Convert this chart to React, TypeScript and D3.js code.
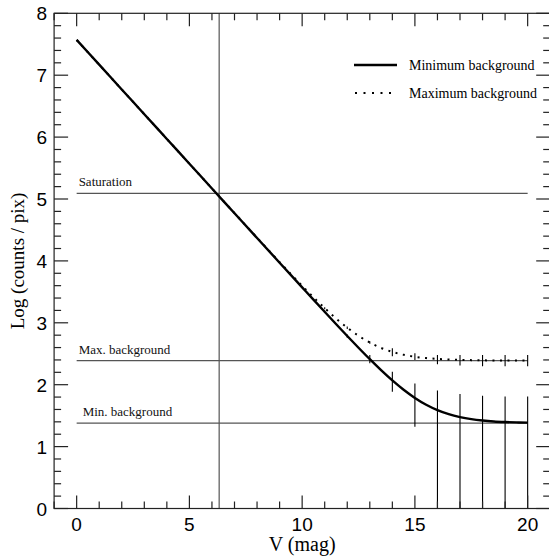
import React from 'react';
import * as d3 from 'd3';

// Data
const vMag = [0, 1, 2, 3, 4, 5, 6, 7, 8, 9, 10, 10.5, 11, 11.5, 12, 12.5, 13, 13.5, 14, 14.5, 15, 15.5, 16, 16.5, 17, 17.5, 18, 18.5, 19, 19.5, 20];
const minBackground = [7.57, 7.17, 6.77, 6.37, 5.97, 5.57, 5.17, 4.77, 4.37, 3.971, 3.573, 3.374, 3.177, 2.981, 2.787, 2.597, 2.412, 2.235, 2.069, 1.918, 1.786, 1.676, 1.589, 1.523, 1.476, 1.443, 1.421, 1.406, 1.397, 1.391, 1.387];
const maxBackground = [7.57, 7.17, 6.77, 6.37, 5.97, 5.57, 5.171, 4.772, 4.375, 3.981, 3.598, 3.413, 3.237, 3.071, 2.921, 2.79, 2.681, 2.595, 2.53, 2.483, 2.451, 2.43, 2.416, 2.407, 2.4, 2.397, 2.394, 2.392, 2.392, 2.391, 2.391];

const errMinV = [12, 13, 14, 15, 16, 17, 18, 19, 20];
const errMinLow = [2.76, 2.346, 1.887, 1.32, 0, 0, 0, 0, 0];
const errMinHigh = [2.81, 2.48, 2.21, 2.02, 1.905, 1.85, 1.82, 1.81, 1.81];

const errMaxV = [11, 12, 13, 14, 15, 16, 17, 18, 19, 20];
const errMaxLow = [3.22, 2.9, 2.66, 2.46, 2.4, 2.33, 2.31, 2.3, 2.3, 2.3];
const errMaxHigh = [3.25, 2.94, 2.7, 2.59, 2.51, 2.48, 2.48, 2.48, 2.48, 2.48];

const saturationLevel = 5.09;
const maxBgLevel = 2.39;
const minBgLevel = 1.38;
const saturationMag = 6.32;

const xTickLabels = [0, 5, 10, 15, 20];
const yTickLabels = [0, 1, 2, 3, 4, 5, 6, 7, 8];

const W = 549;
const H = 558;

export default function App() {
  const x = d3.scaleLinear().domain([-1, 21]).range([54.1, 550.2]);
  const y = d3.scaleLinear().domain([0, 8]).range([508.5, 13.3]);
  const left = x(-1), right = x(21), top = y(8), bottom = y(0);

  const lineGen = (vals: number[]) =>
    d3.line<number>().x((_, i) => x(vMag[i])).y((d) => y(d)).curve(d3.curveMonotoneX)(vals) || '';

  const serif = '"Liberation Serif", "Times New Roman", serif';
  const sans = '"Liberation Sans", Arial, sans-serif';

  const xMinor = d3.range(-1, 22, 1);
  const yMinor = d3.range(0, 8.01, 0.2).map((v) => Math.round(v * 10) / 10);

  return (
    <svg width={W} height={H} style={{ position: 'absolute', left: 0, top: 0, background: '#fff' }}>
      <defs>
        <clipPath id="plotclip">
          <rect x={left} y={top} width={right - left} height={bottom - top} />
        </clipPath>
      </defs>
      <rect x={0} y={0} width={W} height={H} fill="#fff" />

      {/* reference lines */}
      <g stroke="#555" strokeWidth={1.2}>
        {[saturationLevel, maxBgLevel, minBgLevel].map((lv, i) => (
          <line key={i} x1={x(0)} x2={x(20)} y1={y(lv)} y2={y(lv)} />
        ))}
        <line x1={x(saturationMag)} x2={x(saturationMag)} y1={top} y2={bottom} />
      </g>
      <g fontFamily={serif} fontSize={13} fill="#111">
        <text x={x(0) + 2} y={y(saturationLevel) - 7}>Saturation</text>
        <text x={x(0) + 2} y={y(maxBgLevel) - 7}>Max. background</text>
        <text x={x(0) + 6} y={y(minBgLevel) - 7}>Min. background</text>
      </g>

      {/* curves */}
      <g clipPath="url(#plotclip)">
        <path d={lineGen(maxBackground)} fill="none" stroke="#000" strokeWidth={2} strokeDasharray="2 5.5" />
        <path d={lineGen(minBackground)} fill="none" stroke="#000" strokeWidth={2.4} />
        <g stroke="#000" strokeWidth={1.1}>
          {errMinV.map((v, i) => (
            <line key={'a' + i} x1={x(v)} x2={x(v)} y1={y(errMinLow[i])} y2={y(errMinHigh[i])} />
          ))}
          {errMaxV.map((v, i) => (
            <line key={'b' + i} x1={x(v)} x2={x(v)} y1={y(errMaxLow[i])} y2={y(errMaxHigh[i])} />
          ))}
        </g>
      </g>

      {/* frame */}
      <rect x={left} y={top} width={right - left} height={bottom - top} fill="none" stroke="#222" strokeWidth={1.2} />

      {/* ticks */}
      <g stroke="#222" strokeWidth={1.2}>
        {xMinor.map((v) => {
          const len = v % 5 === 0 ? 13 : 7;
          return (
            <g key={'x' + v}>
              <line x1={x(v)} x2={x(v)} y1={bottom} y2={bottom - len} />
              <line x1={x(v)} x2={x(v)} y1={top} y2={top + len} />
            </g>
          );
        })}
        {yMinor.map((v) => {
          const len = Math.abs(v - Math.round(v)) < 1e-6 ? 14 : 7;
          return (
            <g key={'y' + v}>
              <line x1={left} x2={left + len} y1={y(v)} y2={y(v)} />
              <line x1={right} x2={right - len} y1={y(v)} y2={y(v)} />
            </g>
          );
        })}
      </g>

      {/* tick labels */}
      <g fontFamily={sans} fontSize={19} fill="#000">
        {xTickLabels.map((v) => (
          <text key={'xl' + v} x={x(v)} y={bottom + 22} textAnchor="middle">{v}</text>
        ))}
        {yTickLabels.map((v) => (
          <text key={'yl' + v} x={left - 7} y={y(v) + 7} textAnchor="end">{v}</text>
        ))}
      </g>

      {/* axis titles */}
      <text x={(left + right) / 2} y={551} textAnchor="middle" fontFamily={serif} fontSize={20}>V (mag)</text>
      <text transform={`translate(24,${(top + bottom) / 2}) rotate(-90)`} textAnchor="middle" fontFamily={serif} fontSize={19}>Log (counts / pix)</text>

      {/* legend */}
      <g>
        <line x1={354} x2={397} y1={65} y2={65} stroke="#000" strokeWidth={2.4} />
        <text x={409} y={69.5} fontFamily={serif} fontSize={14}>Minimum background</text>
        <line x1={355} x2={397} y1={93} y2={93} stroke="#000" strokeWidth={2} strokeDasharray="2 6.5" />
        <text x={409} y={97.5} fontFamily={serif} fontSize={14}>Maximum background</text>
      </g>
    </svg>
  );
}
